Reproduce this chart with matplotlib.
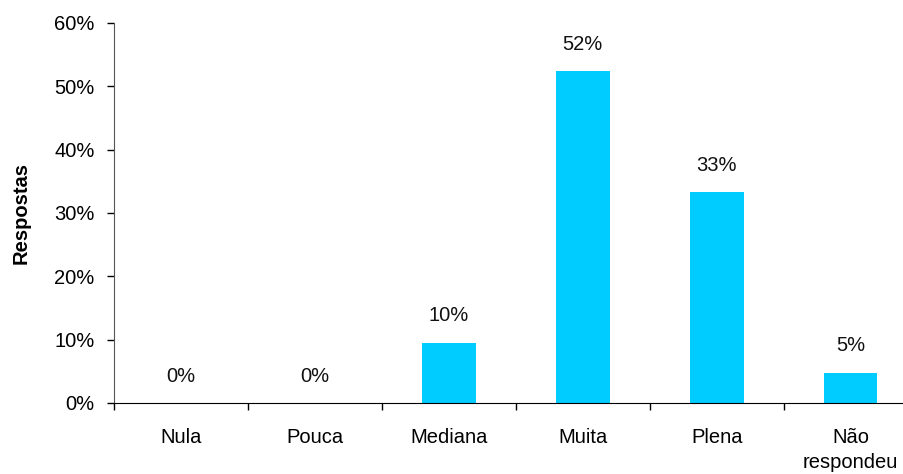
import numpy as np
import matplotlib.pyplot as plt
from matplotlib.ticker import PercentFormatter, FixedLocator

plt.rcParams['font.family'] = ['Liberation Sans', 'DejaVu Sans']

categories = ['Nula', 'Pouca', 'Mediana', 'Muita', 'Plena', 'Não\nrespondeu']
values = [0.0, 0.0, 9.5, 52.4, 33.3, 4.8]
labels = ['0%', '0%', '10%', '52%', '33%', '5%']

fs = 14.5

fig = plt.figure(figsize=(9.04, 4.74), dpi=100)
# axes runs past the right edge, as in the cropped original
ax = fig.add_axes([0.1261, 0.1498, 0.889, 0.8017])

x = np.arange(len(categories))
bars = ax.bar(x, values, width=0.4, color='#00CCFF', zorder=2)

for xi, v, lab in zip(x, values, labels):
    ax.annotate(lab, (xi, v), xytext=(0, 12.5), textcoords='offset points',
                ha='center', va='bottom', fontsize=fs, color='#111111')

ax.set_xlim(-0.5, 5.5)
ax.set_ylim(0, 60)
ax.set_yticks(np.arange(0, 61, 10))
ax.yaxis.set_major_formatter(PercentFormatter(decimals=0))

ax.set_xticks(x)
ax.set_xticklabels(categories, linespacing=1.4)
ax.xaxis.set_minor_locator(FixedLocator(np.arange(-0.5, 6, 1.0)))
ax.tick_params(axis='x', which='major', length=0, pad=18, labelsize=fs)
ax.tick_params(axis='x', which='minor', length=5, width=1, direction='out')
ax.tick_params(axis='y', length=5, width=1, pad=9, labelsize=fs)

for side in ['top', 'right']:
    ax.spines[side].set_visible(False)
ax.spines['left'].set_color('#555555')
ax.spines['bottom'].set_color('black')

ax.set_ylabel('Respostas', fontsize=fs, fontweight='bold')
ax.yaxis.set_label_coords(-0.104, 0.5)

fig.savefig('out.png', dpi=100)
